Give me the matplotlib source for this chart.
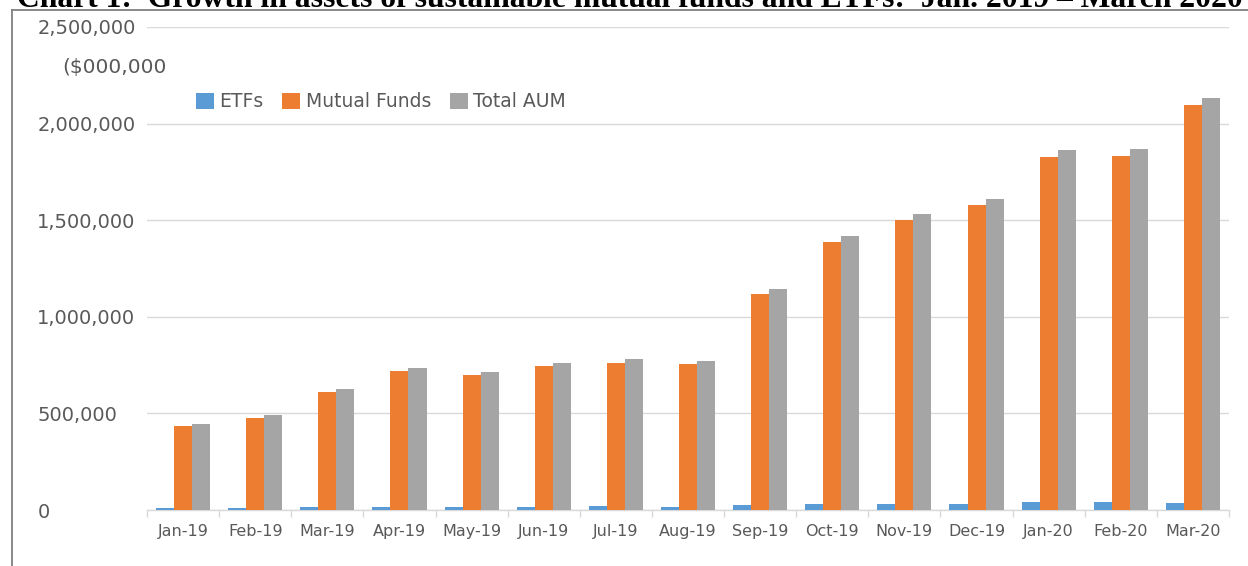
import numpy as np
import matplotlib
matplotlib.use("Agg")
import matplotlib.pyplot as plt
from matplotlib.lines import Line2D
from matplotlib.ticker import FuncFormatter

months = ['Jan-19', 'Feb-19', 'Mar-19', 'Apr-19', 'May-19', 'Jun-19', 'Jul-19', 'Aug-19',
          'Sep-19', 'Oct-19', 'Nov-19', 'Dec-19', 'Jan-20', 'Feb-20', 'Mar-20']
etfs = [10000, 10000, 14000, 16000, 16000, 17000, 19000, 17000,
        28000, 30000, 33000, 33000, 40000, 42000, 35000]
mutual_funds = [434000, 477000, 611000, 719000, 699000, 745000, 762000, 754000,
                1116000, 1389000, 1501000, 1579000, 1827000, 1832000, 2096000]
total_aum = [443000, 490000, 626000, 735000, 714000, 761000, 780000, 771000,
             1144000, 1418000, 1532000, 1611000, 1863000, 1868000, 2132000]
yticks = [0, 500000, 1000000, 1500000, 2000000, 2500000]

title = "Chart 1:  Growth in assets of sustainable mutual funds and ETFs:  Jan. 2019 \u2013 March 2020"

W, H = 1248, 566
fig = plt.figure(figsize=(W / 100, H / 100), dpi=100)
ax = fig.add_axes([147 / W, 1 - 510 / H, (1229 - 147) / W, (510 - 27) / H])

x = np.arange(len(months))
bw = 0.25
ax.bar(x - bw, etfs, bw, color='#5b9bd5', label='ETFs', zorder=3)
ax.bar(x, mutual_funds, bw, color='#ed7d31', label='Mutual Funds', zorder=3)
ax.bar(x + bw, total_aum, bw, color='#a5a5a5', label='Total AUM', zorder=3)

ax.set_xlim(-0.5, len(months) - 0.5)
ax.set_ylim(0, 2500000)
ax.set_yticks(yticks)
ax.yaxis.set_major_formatter(FuncFormatter(lambda v, p: f"{int(v):,}"))
ax.grid(axis='y', color='#d9d9d9', linewidth=1.0, zorder=0)
for s in ['top', 'right', 'left']:
    ax.spines[s].set_visible(False)
ax.spines['bottom'].set_color('#d9d9d9')
ax.spines['bottom'].set_linewidth(1.0)

ax.set_xticks(x)
ax.set_xticklabels(months)
ax.set_xticks(np.arange(-0.5, len(months), 1), minor=True)
ax.tick_params(axis='x', which='major', length=0, pad=10, labelsize=11.5, labelcolor='#595959')
ax.tick_params(axis='x', which='minor', length=5, width=1, color='#d9d9d9')
ax.tick_params(axis='y', length=0, pad=79, labelsize=14, labelcolor='#595959')
for lab in ax.get_yticklabels():
    lab.set_horizontalalignment('left')

fig.text(62 / W, 1 - 68 / H, "($000,000", fontsize=14.5, color='#595959', va='center', ha='left')

fig.legend(loc='center left', bbox_to_anchor=(196 / W, 1 - 102 / H), ncol=3, frameon=False,
           fontsize=13.5, handlelength=0.95, handleheight=0.95, handletextpad=0.3,
           columnspacing=1.0, borderpad=0, borderaxespad=0, labelcolor='#595959')

fig.text(17 / W, 1 - 7 / H, title, fontsize=22.8, fontweight='bold',
         family='Liberation Serif', va='baseline', ha='left')

# frame around the chart (top and left visible)
fig.add_artist(Line2D([12 / W, 12 / W], [0, 1 - 10 / H], color='#808080', lw=1.3))
fig.add_artist(Line2D([12 / W, 1], [1 - 10 / H, 1 - 10 / H], color='#808080', lw=1.3))

fig.savefig('out.png', dpi=100)
